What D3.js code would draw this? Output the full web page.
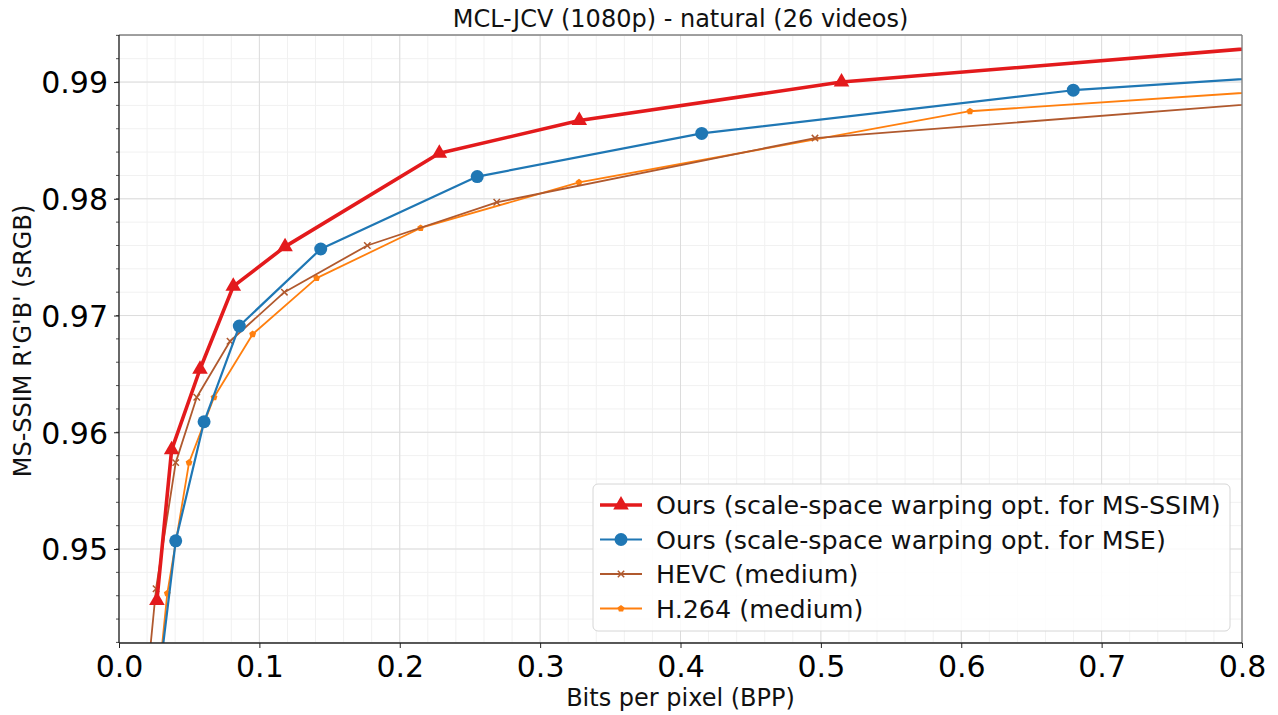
<!DOCTYPE html>
<html>
<head>
<meta charset="utf-8">
<script src="https://cdn.jsdelivr.net/npm/d3@7"></script>
<style>
  html, body { margin: 0; padding: 0; background: #fff; }
  svg { display: block; font-family: "DejaVu Sans", sans-serif; }
</style>
</head>
<body>
<svg id="chart" width="1278" height="715"></svg>
<script>
// Rate–distortion curves: bits per pixel vs. MS-SSIM on MCL-JCV (1080p).
const seriesNames = [
  "Ours (scale-space warping opt. for MS-SSIM)",
  "Ours (scale-space warping opt. for MSE)",
  "HEVC (medium)",
  "H.264 (medium)"
];

const oursMsssimBpp  = [0.0270, 0.0375, 0.0577, 0.0814, 0.1183, 0.2282, 0.3279, 0.5147, 0.9200];
const oursMsssimQ    = [0.9456, 0.9585, 0.9654, 0.9725, 0.9759, 0.9839, 0.9867, 0.9900, 0.9940];

const oursMseBpp     = [0.0267, 0.0404, 0.0606, 0.0857, 0.1437, 0.2552, 0.4151, 0.6798, 0.9500];
const oursMseQ       = [0.9371, 0.9507, 0.9609, 0.9691, 0.9757, 0.9819, 0.9856, 0.9893, 0.99145];

const hevcBpp        = [0.0205, 0.0264, 0.0404, 0.0554, 0.0791, 0.1178, 0.1769, 0.2691, 0.4958, 0.9500];
const hevcQ          = [0.9393, 0.9466, 0.9574, 0.9630, 0.9678, 0.9720, 0.9760, 0.9797, 0.9852, 0.98944];

const h264Bpp        = [0.0268, 0.0344, 0.0499, 0.0677, 0.0952, 0.1408, 0.2149, 0.3277, 0.6062, 0.9500];
const h264Q          = [0.9371, 0.9462, 0.9574, 0.9630, 0.9684, 0.9732, 0.9775, 0.9814, 0.9875, 0.99027];

const xTicks = [0.0, 0.1, 0.2, 0.3, 0.4, 0.5, 0.6, 0.7, 0.8];
const yTicks = [0.95, 0.96, 0.97, 0.98, 0.99];

const series = [
  { name: seriesNames[0], bpp: oursMsssimBpp, q: oursMsssimQ, color: "#e31a1c", width: 3.6, marker: "triangle" },
  { name: seriesNames[1], bpp: oursMseBpp,    q: oursMseQ,    color: "#1f77b4", width: 2.2, marker: "circle" },
  { name: seriesNames[2], bpp: hevcBpp,       q: hevcQ,       color: "#b0592e", width: 1.8, marker: "x" },
  { name: seriesNames[3], bpp: h264Bpp,       q: h264Q,       color: "#ff7f0e", width: 1.8, marker: "pentagon" }
];

const W = 1278, H = 715;
const margin = { left: 119, right: 36, top: 35, bottom: 72 };
const iw = W - margin.left - margin.right;
const ih = H - margin.top - margin.bottom;

const svg = d3.select("#chart");
const x = d3.scaleLinear().domain([0, 0.8]).range([0, iw]);
const y = d3.scaleLinear().domain([0.94195, 0.99403]).range([ih, 0]);

const g = svg.append("g").attr("transform", `translate(${margin.left},${margin.top})`);

svg.append("defs").append("clipPath").attr("id", "plot-clip")
  .append("rect").attr("width", iw).attr("height", ih);

// grid: minor first, then major
const xMinor = d3.range(0, 0.8001, 0.02);
const yMinor = d3.range(0.942, 0.9941, 0.002).filter(v => v >= y.domain()[0] && v <= y.domain()[1]);
const grid = g.append("g");
grid.selectAll(".xm").data(xMinor).join("line")
  .attr("x1", d => x(d)).attr("x2", d => x(d)).attr("y1", 0).attr("y2", ih)
  .attr("stroke", "#f1f1f1").attr("stroke-width", 1);
grid.selectAll(".ym").data(yMinor).join("line")
  .attr("x1", 0).attr("x2", iw).attr("y1", d => y(d)).attr("y2", d => y(d))
  .attr("stroke", "#f1f1f1").attr("stroke-width", 1);
grid.selectAll(".xM").data(xTicks).join("line")
  .attr("x1", d => x(d)).attr("x2", d => x(d)).attr("y1", 0).attr("y2", ih)
  .attr("stroke", "#dcdcdc").attr("stroke-width", 1);
grid.selectAll(".yM").data(yTicks).join("line")
  .attr("x1", 0).attr("x2", iw).attr("y1", d => y(d)).attr("y2", d => y(d))
  .attr("stroke", "#dcdcdc").attr("stroke-width", 1);

// marker drawing helper
function drawMarker(sel, type, color) {
  if (type === "triangle") {
    sel.append("path").attr("d", d3.symbol(d3.symbolTriangle, 105)())
      .attr("fill", color);
  } else if (type === "circle") {
    sel.append("circle").attr("r", 6.5).attr("fill", color);
  } else if (type === "x") {
    const r = 3.2;
    sel.append("path").attr("d", `M${-r},${-r}L${r},${r}M${-r},${r}L${r},${-r}`)
      .attr("fill", "none").attr("stroke", color).attr("stroke-width", 1.5);
  } else if (type === "pentagon") {
    const r = 3.6;
    const pts = d3.range(5).map(i => {
      const a = -Math.PI / 2 + i * 2 * Math.PI / 5;
      return [r * Math.cos(a), r * Math.sin(a)];
    });
    sel.append("path").attr("d", "M" + pts.join("L") + "Z").attr("fill", color);
  }
}

const plot = g.append("g").attr("clip-path", "url(#plot-clip)");
const line = d3.line().x(d => x(d[0])).y(d => y(d[1]));

// draw in reverse so the first series sits on top
series.slice().reverse().forEach(s => {
  const pts = s.bpp.map((b, i) => [b, s.q[i]]);
  plot.append("path").datum(pts)
    .attr("d", line)
    .attr("fill", "none")
    .attr("stroke", s.color)
    .attr("stroke-width", s.width)
    .attr("stroke-linejoin", "round");
  plot.selectAll(null).data(pts).join("g")
    .attr("transform", d => `translate(${x(d[0])},${y(d[1])})`)
    .each(function () { drawMarker(d3.select(this), s.marker, s.color); });
});

// axes
const xAxis = d3.axisBottom(x).tickValues(xTicks).tickFormat(d3.format(".1f")).tickSize(5).tickPadding(5);
const yAxis = d3.axisLeft(y).tickValues(yTicks).tickFormat(d3.format(".2f")).tickSize(5).tickPadding(6);

const gx = g.append("g").attr("transform", `translate(0,${ih})`).call(xAxis);
const gy = g.append("g").call(yAxis);
[gx, gy].forEach(a => {
  a.select(".domain").remove();
  a.selectAll(".tick line").attr("stroke", "#222");
  a.selectAll(".tick text").attr("fill", "#000").style("font-size", "30px").style("font-family", "DejaVu Sans");
});
gy.selectAll(".tick text").attr("dy", "0.36em");
gx.selectAll(".tick text").attr("dy", "0.8em");

// minor y ticks
g.append("g").selectAll("line")
  .data(yMinor)
  .join("line")
  .attr("x1", -3).attr("x2", 0).attr("y1", d => y(d)).attr("y2", d => y(d))
  .attr("stroke", "#222").attr("stroke-width", 0.8);

// frame
g.append("line").attr("x1", 0).attr("x2", iw).attr("y1", 0).attr("y2", 0).attr("stroke", "#808080").attr("stroke-width", 1.3);
g.append("line").attr("x1", iw).attr("x2", iw).attr("y1", 0).attr("y2", ih).attr("stroke", "#808080").attr("stroke-width", 1.3);
g.append("line").attr("x1", 0).attr("x2", iw).attr("y1", ih).attr("y2", ih).attr("stroke", "#222").attr("stroke-width", 1.3);
g.append("line").attr("x1", 0).attr("x2", 0).attr("y1", 0).attr("y2", ih).attr("stroke", "#222").attr("stroke-width", 1.3);

// title and axis labels
svg.append("text").attr("x", margin.left + iw / 2).attr("y", 27)
  .attr("text-anchor", "middle").style("font-size", "24px").attr("fill", "#111")
  .text("MCL-JCV (1080p) - natural (26 videos)");
svg.append("text").attr("x", margin.left + iw / 2).attr("y", 706)
  .attr("text-anchor", "middle").style("font-size", "24px").attr("fill", "#111")
  .text("Bits per pixel (BPP)");
svg.append("text")
  .attr("transform", `translate(31,341) rotate(-90)`)
  .attr("text-anchor", "middle").style("font-size", "24px").attr("fill", "#111")
  .text("MS-SSIM R'G'B' (sRGB)");

// legend
const lg = svg.append("g").attr("transform", "translate(593,484)");
lg.append("rect").attr("width", 637).attr("height", 147).attr("rx", 5)
  .attr("fill", "#fff").attr("fill-opacity", 0.85)
  .attr("stroke", "#d6d6d6").attr("stroke-width", 1);
series.forEach((s, i) => {
  const row = lg.append("g").attr("transform", `translate(0,${21 + i * 34.5})`);
  row.append("line").attr("x1", 7).attr("x2", 49).attr("y1", 0).attr("y2", 0)
    .attr("stroke", s.color).attr("stroke-width", s.width);
  const m = row.append("g").attr("transform", "translate(28,0)");
  drawMarker(m, s.marker, s.color);
  row.append("text").attr("x", 63).attr("y", 0).attr("dy", "0.36em")
    .style("font-size", "25.4px").attr("fill", "#111").text(s.name);
});
</script>
</body>
</html>
